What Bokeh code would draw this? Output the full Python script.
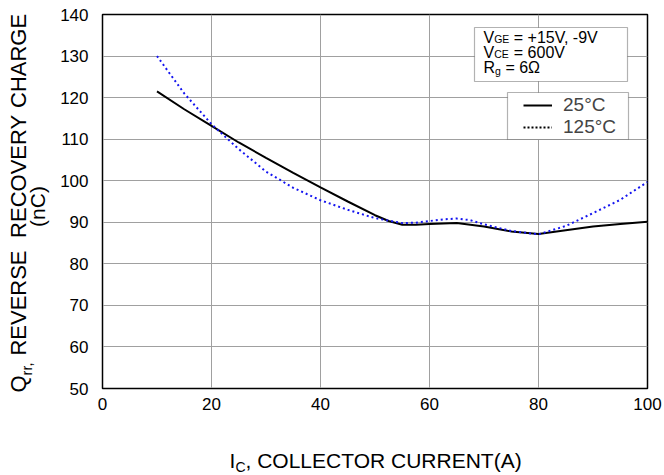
import math
from bokeh.plotting import figure
from bokeh.models import Label, Legend, LegendItem, BoxAnnotation, Range1d, FixedTicker
from bokeh.layouts import column, row
from bokeh.embed import file_html
from bokeh.resources import INLINE

# ---- data ----
ic_25 = [10, 15, 20, 25, 30, 35, 40, 45, 50, 52.5, 55, 57.5, 60, 65, 70, 75, 80, 85, 90, 95, 100]
qrr_25 = [121.5, 117.2, 113.2, 109.2, 105.5, 101.9, 98.4, 95.0, 91.7, 90.3, 89.4, 89.4, 89.6,
          89.8, 89.0, 87.8, 87.2, 88.1, 89.0, 89.6, 90.1]
ic_125 = [10, 15, 20, 25, 30, 35, 40, 45, 50, 55, 57.5, 60, 62.5, 65, 67.5, 70, 75, 80, 85,
          90, 95, 100]
qrr_125 = [130.0, 121.0, 113.6, 107.6, 102.2, 98.3, 95.3, 93.0, 91.0, 89.8, 89.9, 90.3, 90.7,
           90.9, 90.5, 89.5, 87.9, 87.1, 89.1, 92.2, 95.4, 99.7]
x_ticks = [0, 20, 40, 60, 80, 100]
y_ticks = [50, 60, 70, 80, 90, 100, 110, 120, 130, 140]
legend_labels = ["25°C", "125°C"]
cond_lines = [("V", "GE", "= +15V, -9V"), ("V", "CE", "= 600V"), ("R", "g", "= 6Ω")]
y_label_words = ["REVERSE", "RECOVERY", "CHARGE"]

FONT = "Liberation Sans"
DESC = 0.212          # font descent / size
PAGE_W, PAGE_H = 664, 475
LEFT_W = 50          # width of the y-label strip
TOP_H = 430          # height of the main figure
# frame edges in page px
FL, FR, FT, FB = 102, 647, 14, 388

p = figure(width=PAGE_W - LEFT_W, height=TOP_H, output_backend="svg", toolbar_location=None,
           x_range=Range1d(0, 100), y_range=Range1d(50, 140),
           min_border_left=FL - LEFT_W, min_border_right=PAGE_W - FR, min_border_top=FT,
           min_border_bottom=TOP_H - FB)
p.background_fill_color = "white"
p.border_fill_color = "white"
p.outline_line_color = "black"
p.outline_line_width = 1.5

for ax in (p.xaxis[0], p.yaxis[0]):
    ax.axis_line_color = "black"
    ax.major_tick_line_color = None
    ax.minor_tick_line_color = None
    ax.major_tick_out = 0
    ax.major_tick_in = 0
    ax.minor_tick_out = 0
    ax.major_label_text_font = FONT
    ax.major_label_text_font_size = "17px"
    ax.major_label_text_color = "black"
p.xaxis.ticker = FixedTicker(ticks=x_ticks)
p.yaxis.ticker = FixedTicker(ticks=y_ticks)
p.xaxis.major_label_standoff = 9
p.yaxis.major_label_standoff = 14
p.grid.grid_line_color = "#a0a0a0"
p.grid.grid_line_width = 1

r25 = p.line(ic_25, qrr_25, line_color="black", line_width=2)
r125 = p.line(ic_125, qrr_125, line_color="#1414f0", line_width=2, line_dash="2 3")
# legend swatch for 125°C is drawn black dotted in the reference
proxy = p.line(ic_125, qrr_125, line_color="black", line_width=2, line_dash="2 2", visible=False)


def dx(px):  # page px -> data x
    return (px - FL) / (FR - FL) * 100.0


def dy(py):  # page px -> data y
    return 140.0 - (py - FT) / (FB - FT) * 90.0


# legend box + legend entries
p.add_layout(BoxAnnotation(left=dx(507), right=dx(628), top=dy(92), bottom=dy(139),
                           fill_color="white", fill_alpha=1.0, line_color="black",
                           line_width=1.2))
legend = Legend(items=[LegendItem(label=legend_labels[0], renderers=[r25]),
                       LegendItem(label=legend_labels[1], renderers=[proxy])],
                location=(523 - FL, FB - 138), label_text_font=FONT,
                label_text_font_size="19px", glyph_width=29, glyph_height=14,
                label_height=14, label_standoff=11, spacing=-4, padding=0, margin=0,
                border_line_color=None, background_fill_alpha=0.0,
                inactive_fill_alpha=0.0)
p.add_layout(legend)

# condition box
p.add_layout(BoxAnnotation(left=dx(474), right=dx(627), top=dy(27), bottom=dy(81),
                           fill_color="white", fill_alpha=1.0, line_color="black",
                           line_width=1.2))


def clab(px, base, text, size):
    p.add_layout(Label(x=dx(px), y=dy(base + DESC * size), text=text, text_font=FONT,
                       text_font_size=f"{size}px", text_baseline="bottom",
                       text_color="black"))


for i, (a, b, c) in enumerate(cond_lines):
    base = 42 + 15 * i
    x0 = 483
    w_a = 10.7 if a == "V" else 11.6
    w_b = 10.3 if b == "g" else 19.6
    clab(x0, base, a, 16)
    clab(x0 + w_a, base + (2 if b == "g" else 0), b, 10.5)
    clab(x0 + w_a + w_b, base, c, 16)

# ---- y-axis label strip (full page height) ----
yl = figure(width=LEFT_W, height=PAGE_H, output_backend="svg", toolbar_location=None,
            x_axis_location=None, y_axis_location=None, min_border=0,
            x_range=Range1d(0, LEFT_W), y_range=Range1d(0, PAGE_H))
yl.outline_line_color = None
yl.grid.visible = False


def ylab(base_x, py, text, size, align="left"):
    # rotated text: the baseline lies at base_x, glyphs extend to the left
    yl.add_layout(Label(x=base_x + DESC * size, y=PAGE_H - py, x_units="screen",
                        y_units="screen", text=text, angle=math.pi / 2, text_align=align,
                        text_baseline="bottom", text_font=FONT, text_font_size=f"{size}px",
                        text_color="black"))


ylab(25.5, 392, "Q", 22)
ylab(31.5, 374.9, "rr,", 14.5)
ylab(25.5, 355.1, y_label_words[0], 22)
ylab(25.5, 237.4, y_label_words[1], 22)
ylab(25.5, 107.5, y_label_words[2], 22)
ylab(44, 206, "(nC)", 21, align="center")

# ---- x-axis label strip (frame aligned with the main frame) ----
XH = PAGE_H - TOP_H
xl = figure(width=PAGE_W - LEFT_W, height=XH, output_backend="svg", toolbar_location=None,
            x_axis_location=None, y_axis_location=None,
            min_border_left=FL - LEFT_W, min_border_right=PAGE_W - FR,
            min_border_top=0, min_border_bottom=0,
            x_range=Range1d(0, FR - FL), y_range=Range1d(0, XH))
xl.outline_line_color = None
xl.grid.visible = False


def xlab(px, base, text, size):
    xl.add_layout(Label(x=px - FL, y=PAGE_H - base - DESC * size, x_units="screen",
                        y_units="screen", text=text, text_baseline="bottom", text_font=FONT,
                        text_font_size=f"{size}px", text_color="black"))


xlab(229, 467, "I", 21)
xlab(235, 471.5, "C", 14)
xlab(245, 467, ", COLLECTOR CURRENT(A)", 21)

layout = row(yl, column(p, xl))
open("out.html", "w").write(file_html(layout, INLINE))
